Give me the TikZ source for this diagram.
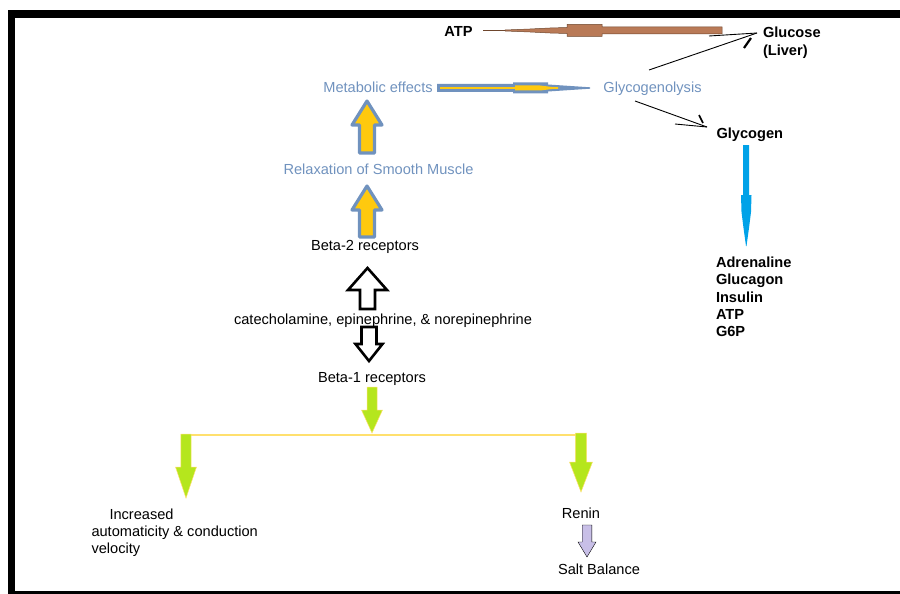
\documentclass[tikz,border=0pt]{standalone}
\usepackage{fontspec}
\setmainfont{Liberation Sans}
\definecolor{bluegray}{RGB}{112,146,190}
\definecolor{ylw}{RGB}{255,201,14}
\definecolor{lime}{RGB}{181,230,29}
\definecolor{lav}{RGB}{200,191,231}
\definecolor{skyb}{RGB}{0,162,232}
\definecolor{brwn}{RGB}{185,122,87}
\definecolor{dbrwn}{RGB}{110,70,45}
\definecolor{lightyl}{RGB}{255,224,110}
% #1 style, #2 x, #3 tail y, #4 head-base y, #5 shaft half width, #6 head half width, #7 tip y
\newcommand\vblock[7][]{\draw[#1] ({#2-#5},#3) -- ({#2-#5},#4) -- ({#2-#6},#4) -- (#2,#7) -- ({#2+#6},#4) -- ({#2+#5},#4) -- ({#2+#5},#3) -- cycle;}
\begin{document}
\begin{tikzpicture}[x=1pt,y=-1pt,
  font=\fontsize{14.6}{17.3}\selectfont,
  lbl/.style={inner sep=0pt, outer sep=0pt},
  bl/.style={lbl, text=bluegray},
  bd/.style={lbl, font=\fontsize{14.6}{17.3}\selectfont\bfseries},
  yarrow/.style={draw=bluegray, line width=3.2pt, line join=round, fill=ylw},
  oarrow/.style={draw=black, line width=2.6pt, line join=miter, fill=white},
  garrow/.style={draw=lightyl, line width=0.5pt, fill=lime},
  larrow/.style={fill=lav},
  thinblk/.style={draw=black, line width=0.9pt},
  tickblk/.style={draw=black, line width=2.2pt}]
\useasboundingbox (0,0) rectangle (900,594);
% frame
\fill[black] (8,10) rectangle (900,18);
\fill[black] (8,10) rectangle (15,594);
\fill[black] (8,591.3) rectangle (900,593.5);

% labels
\node[bd] (atp) at (458.5,31.5) {ATP};
\node[bd, align=left, anchor=north west, font=\fontsize{14.6}{18}\selectfont\bfseries] (glucose) at (763,26.5) {Glucose\\(Liver)};
\node[bl] (meta) at (378,87) {Metabolic effects};
\node[bl] (glyl) at (652.5,89) {Glycogenolysis};
\node[bd, anchor=west] (glycogen) at (716.5,134.5) {Glycogen};
\node[bl] (relax) at (378.5,169) {Relaxation of Smooth Muscle};
\node[lbl] (beta2) at (365,247) {Beta-2 receptors};
\node[lbl] (cat) at (383,321) {catecholamine, epinephrine, \& norepinephrine};
\node[lbl] (beta1) at (372,379) {Beta-1 receptors};
\node[bd, align=left, anchor=north west] (list) at (716,257) {Adrenaline\\Glucagon\\Insulin\\ATP\\G6P};
\node[lbl, align=left, anchor=north west] (incr) at (91.5,508.5) {\hspace*{18pt}Increased\\automaticity \& conduction\\velocity};
\node[lbl] (renin) at (581,513) {Renin};
\node[lbl] (salt) at (599,569) {Salt Balance};

% brown tapered arrow Glucose -> ATP
\coordinate (bS) at (722,30.5);
\coordinate (bE) at (483,30.5);
\draw[dbrwn, line width=0.8pt] (bE) -- (505,30.5);
\filldraw[fill=brwn, draw=dbrwn, line width=0.5pt]
  (722,27) -- (602,27) -- (602,24.5) -- (567,24.5) -- (567,27.5) -- (550,28) -- (530,29) -- (505,30) -- (505,31)
  -- (530,32) -- (550,33) -- (567,33.5) -- (567,36.5) -- (602,36.5) -- (602,34) -- (722,34) -- cycle;

% blue-gray tapered arrow Metabolic effects -> Glycogenolysis
\coordinate (mS) at (437,88);
\coordinate (mE) at (590,88);
\fill[bluegray] (437,84) -- (513,84) -- (513,82.5) -- (548,82.5) -- (548,84.5) -- (590,87.3) -- (590,88.7)
  -- (548,91.5) -- (548,93.5) -- (513,93.5) -- (513,92) -- (437,92) -- cycle;
\draw[ylw, line width=1.3pt] (440,88) -- (558,88);
\fill[ylw] (515,85.5) -- (540,85.5) -- (560,88) -- (540,90.5) -- (515,90.5) -- cycle;

% black arrows from Glycogenolysis
\coordinate (g1s) at (649,70);
\coordinate (g1t) at (757,33);
\draw[thinblk] (g1s) -- (g1t);
\draw[thinblk] (709,36) -- (g1t);
\draw[tickblk] (744,48) -- (751,38);
\coordinate (g2s) at (635,101);
\coordinate (g2t) at (707,127);
\draw[thinblk] (g2s) -- (g2t);
\draw[thinblk] (675,124) -- (g2t);
\draw[tickblk, line width=1.6pt] (699,115) -- (703,123);

% blue arrow Glycogen -> list
\fill[skyb] (743,145) -- (749,145) -- (749,195) -- (751.5,195) -- (751,212) -- (749,228) -- (746.5,246) -- (746,246)
  -- (743.5,228) -- (741.5,212) -- (741,195) -- (743,195) -- cycle;

% yellow block arrows
\vblock[yarrow]{367}{153}{125}{7.5}{15}{101}
\vblock[yarrow]{367}{237}{210}{7.5}{15}{186}
% open black arrows
\vblock[oarrow]{367.5}{309}{290}{7.5}{19.5}{268}
\vblock[oarrow]{369}{327}{344}{7.5}{13.5}{361}
% green arrows and branch line
\draw[lightyl, line width=1.3pt] (181,435) -- (584,435);
\vblock[garrow]{372}{387}{410}{5}{10.5}{433}
\vblock[garrow]{186}{434}{467}{5.2}{10.5}{498}
\vblock[garrow]{581}{433}{462}{5.7}{11.5}{492}
% lavender arrow Renin -> Salt Balance
\vblock[larrow]{587}{525}{542}{4.8}{9}{557}
\end{tikzpicture}
\end{document}
